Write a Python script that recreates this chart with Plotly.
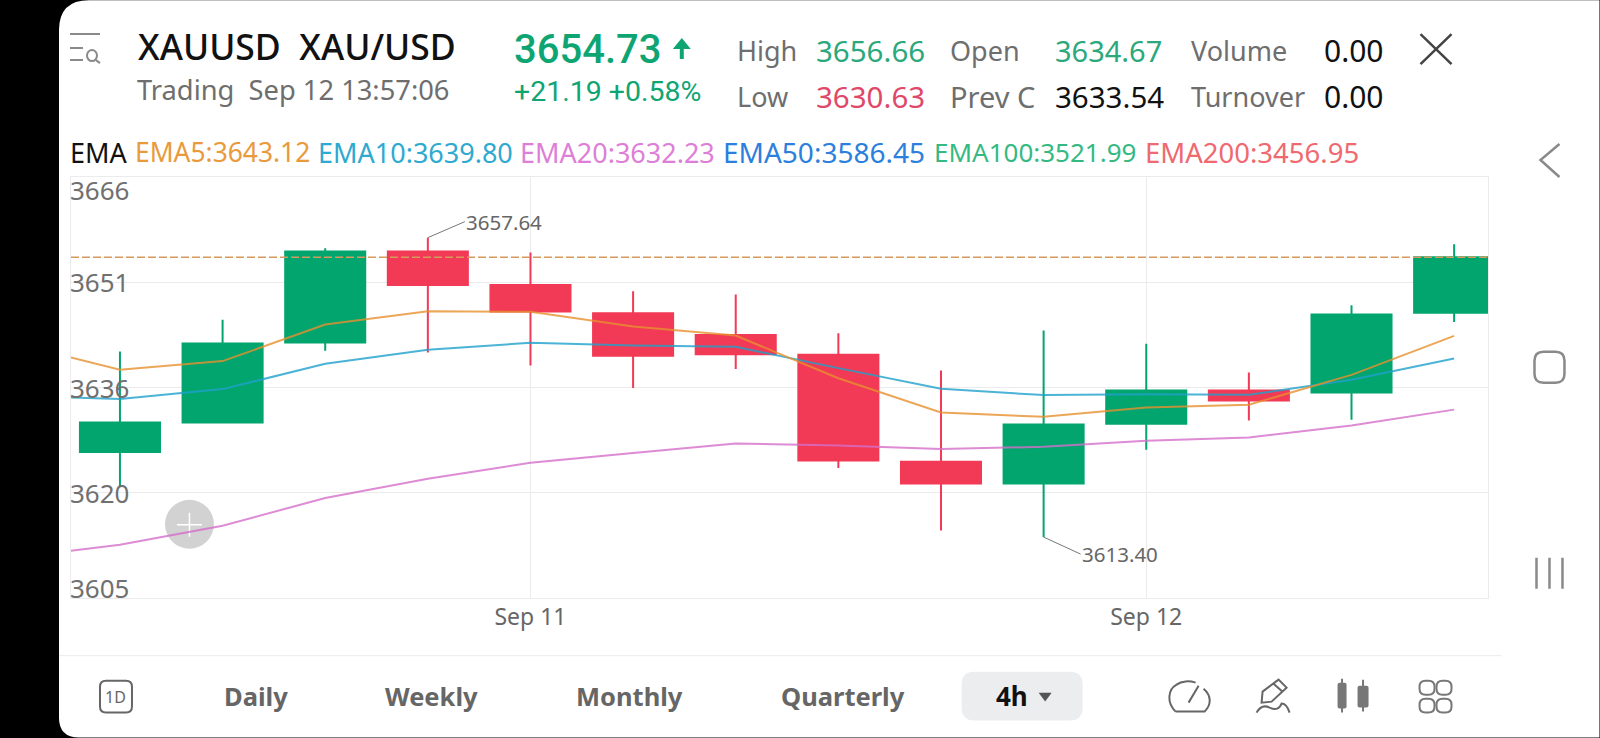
import re
import plotly.graph_objects as go

# candles, 4h bars
candle_x = list(range(14))
opens = [3625.96, 3630.33, 3642.14, 3655.58, 3650.66, 3646.48, 3643.24, 3640.33, 3624.53, 3621.32, 3630.14, 3635.06, 3634.76, 3646.53]
highs = [3640.81, 3645.50, 3656.08, 3657.64, 3655.43, 3649.73, 3649.23, 3643.53, 3638.01, 3643.92, 3641.95, 3637.71, 3647.67, 3656.66]
lows = [3620.88, 3630.33, 3640.92, 3640.67, 3638.75, 3635.41, 3638.22, 3623.60, 3614.38, 3613.40, 3626.30, 3630.63, 3630.73, 3645.16]
closes = [3630.33, 3642.00, 3655.58, 3650.66, 3646.72, 3640.18, 3640.43, 3624.72, 3621.32, 3630.04, 3635.06, 3633.58, 3646.28, 3654.73]

# the EMA lines start one bar left of the first visible candle
ema_x = list(range(-1, 14))
ema5 = [3641.92, 3638.11, 3639.40, 3644.80, 3646.78, 3646.68, 3644.51, 3643.18, 3636.86, 3631.81, 3631.17, 3632.55, 3632.94, 3637.37, 3643.12]
ema10 = [3634.29, 3633.79, 3635.26, 3639.00, 3641.07, 3642.10, 3641.70, 3641.51, 3638.36, 3635.31, 3634.38, 3634.52, 3634.42, 3636.64, 3639.80]
ema20 = [3610.41, 3612.27, 3615.08, 3619.17, 3622.02, 3624.38, 3625.81, 3627.23, 3626.93, 3626.40, 3626.74, 3627.63, 3628.12, 3629.89, 3632.23]

last_price = 3654.73
y_ticks = [3666.6, 3651.05, 3635.5, 3619.95, 3604.4]
y_labels = ["3666", "3651", "3636", "3620", "3605"]
y_label_shift = [-13, 0, 0, 0, 10]
x_ticks = [4, 10]
x_labels = ["Sep 11", "Sep 12"]

GREEN = "#03A56E"
RED = "#F23A56"
GRAY = "#6E6E6E"
FONT = "Noto Sans"

W, H = 1600, 738
L, R, T, B = 71, 1488.5, 177, 598.3


def px(x, y):
    return (x - L) / (R - L), 1 - (y - T) / (B - T)


def path(s):
    # path written in page pixels, turned into paper coordinates
    parts = re.findall(r"[A-Za-z]|-?[\d.]+", s)
    out, is_x, last = [], True, 0
    for t in parts:
        if t.isalpha():
            out.append(t)
            is_x = True
        elif is_x:
            last = float(t)
            is_x = False
        else:
            a, b = px(last, float(t))
            out.append(f"{a:.5f},{b:.5f}")
            is_x = True
    return " ".join(out)


def rrect(x0, y0, x1, y1, r):
    return (f"M {x0+r} {y0} L {x1-r} {y0} Q {x1} {y0} {x1} {y0+r} L {x1} {y1-r} Q {x1} {y1} {x1-r} {y1} "
            f"L {x0+r} {y1} Q {x0} {y1} {x0} {y1-r} L {x0} {y0+r} Q {x0} {y0} {x0+r} {y0} Z")


shapes = []


def fill(s, color, layer="above"):
    shapes.append(dict(type="path", xref="paper", yref="paper", path=path(s), fillcolor=color,
                       line=dict(width=0), layer=layer))


def stroke(s, color="#6E6E6E", width=2):
    shapes.append(dict(type="path", xref="paper", yref="paper", path=path(s), line=dict(color=color, width=width)))


notes = []


def text(x, y, s, color=GRAY, size=27, weight=400, anchor="left", family=FONT):
    a, b = px(x, y)
    notes.append(dict(xref="paper", yref="paper", x=a, y=b, text=s, showarrow=False, xanchor=anchor,
                      yanchor="middle", borderpad=0,
                      font=dict(family=family, size=size, color=color, weight=weight)))


# white phone panel on black
fill("M 59 30 Q 59 0 89 0 L 1600 0 L 1600 738 L 79 738 Q 59 738 59 718 Z", "#FFFFFF", "below")

# header
text(137, 46, "XAUUSD  XAU/USD", "#111111", 35.5, 500)
text(136, 89, "Trading  Sep 12 13:57:06", GRAY, 27.3)
text(513, 49, "3654.73", "#0FA573", 40, 500, family="Roboto")
text(513, 91, "+21.19 +0.58%", "#0FA573", 28.5, family="Roboto")
fill("M 682 38 L 691 49 L 684 49 L 684 59 L 680 59 L 680 49 L 673 49 Z", "#0FA573")
for x, y, s, c, size in [
    (736, 50.5, "High", GRAY, 27), (736, 96, "Low", GRAY, 27),
    (815, 50.5, "3656.66", "#2BA87C", 29.5), (815, 96, "3630.63", "#E0486A", 29.5),
    (949, 50.5, "Open", GRAY, 27), (949, 96, "Prev C", GRAY, 29),
    (1054, 50.5, "3634.67", "#2BA87C", 29), (1054, 96, "3633.54", "#111111", 29.5),
    (1190, 50.5, "Volume", GRAY, 27), (1190, 96, "Turnover", GRAY, 27),
    (1323, 50.5, "0.00", "#111111", 30), (1323, 96, "0.00", "#111111", 30),
]:
    text(x, y, s, c, size)

# EMA legend row
for x, s, c, size in [
    (69, "EMA", "#111111", 27), (134, "EMA5:3643.12", "#E89A3C", 26.4), (317, "EMA10:3639.80", "#2EA9CF", 27),
    (519, "EMA20:3632.23", "#DD7FD8", 27), (722, "EMA50:3586.45", "#2C7FDC", 28),
    (933, "EMA100:3521.99", "#35B983", 26), (1144, "EMA200:3456.95", "#EE6A70", 27.5),
]:
    text(x, 152, s, c, size)

# top icons
stroke("M 70 34 L 100 34 M 70 48 L 83 48 M 70 60 L 83 60", "#8A8A8A", 2)
shapes.append(dict(type="circle", xref="paper", yref="paper", x0=px(87, 0)[0], x1=px(97, 0)[0],
                   y0=px(0, 61)[1], y1=px(0, 50)[1], line=dict(color="#8A8A8A", width=2)))
stroke("M 96 60 L 100 63", "#8A8A8A", 2)
stroke("M 1421 34 L 1452 64 M 1452 34 L 1421 64", "#444444", 2.5)
stroke("M 1560 144 L 1541 160 L 1560 177", "#8A8A8A", 2.5)
stroke(rrect(1535, 352, 1565, 383, 9), "#8A8A8A", 2.5)
stroke("M 1537 558 L 1537 589 M 1550 558 L 1550 589 M 1563 558 L 1563 589", "#8A8A8A", 2.5)

# bottom bar
stroke("M 59 656 L 1502 656", "#EBEBEB", 1)
stroke(rrect(100, 681, 132, 713, 6), "#666666", 2)
text(116, 697, "1D", "#666666", 16, 400, "center")
for x, s in [(223, "Daily"), (384, "Weekly"), (575, "Monthly"), (780, "Quarterly")]:
    text(x, 696, s, "#666666", 25.5, 700)
fill(rrect(962, 672, 1083, 721, 13), "#ECEDEF")
text(995, 696, "4h", "#111111", 26, 700)
fill("M 1039 693 L 1052 693 L 1045.5 702 Z", "#555555")
stroke("M 1176 712 C 1167 703 1168 690 1177 685 C 1182 681 1190 681 1196 683 "
       "M 1204 689 C 1212 696 1212 705 1205 712 L 1176 712 M 1189 703 L 1199 686", "#666666", 2)
stroke("M 1262 703 L 1263 692 L 1279 680 L 1287 688 L 1272 702 Z M 1274 684 L 1283 692 "
       "M 1257 713 Q 1262 704 1270 708 Q 1279 712 1282 704 Q 1287 704 1290 713", "#666666", 2)
fill(rrect(1338, 683, 1347, 709, 2), "#777777")
fill(rrect(1358, 686, 1369, 708, 2), "#777777")
stroke("M 1342.5 679 L 1342.5 713 M 1363.5 680 L 1363.5 712", "#777777", 2)
for x0, y0 in [(1420, 681), (1437, 681), (1420, 699), (1437, 699)]:
    stroke(rrect(x0, y0, x0 + 15, y0 + 14, 6), "#777777", 2)

# plus button under the lines
a0, b0 = px(165, 549)
a1, b1 = px(214, 500)
shapes.append(dict(type="circle", xref="paper", yref="paper", x0=a0, x1=a1, y0=b0, y1=b1,
                   fillcolor="#D2D2D2", line=dict(width=0), layer="below"))
shapes.append(dict(type="path", xref="paper", yref="paper", layer="below",
                   path=path("M 177 525 L 202 525 M 189.5 513 L 189.5 537"),
                   line=dict(color="#FFFFFF", width=1.5)))

# last price line
shapes.append(dict(type="line", xref="paper", yref="y", x0=0, x1=1, y0=last_price, y1=last_price,
                   line=dict(color="#D69A5C", width=1.5, dash="8px,3px")))

# y labels sit inside the plot next to their grid lines
for v, s, shift in zip(y_ticks, y_labels, y_label_shift):
    notes.append(dict(xref="paper", yref="y", x=-0.0015, y=v, yshift=shift, text=s, showarrow=False, xanchor="left",
                      yanchor="middle", borderpad=0, font=dict(family=FONT, size=26, color="#707070")))

# high and low call-outs
for i, v, ax, ay in [(3, max(highs), 37, -16), (9, min(lows), 37, 17)]:
    notes.append(dict(xref="x", yref="y", x=i, y=v, text=f"{v:.2f}", showarrow=True, arrowhead=0, arrowwidth=1,
                      arrowcolor="#777777", ax=ax, ay=ay, xanchor="left", yanchor="middle", borderpad=0,
                      font=dict(family=FONT, size=20.5, color="#666666")))

fig = go.Figure()
fig.add_trace(go.Candlestick(
    x=candle_x, open=opens, high=highs, low=lows, close=closes, whiskerwidth=0,
    increasing=dict(line=dict(color=GREEN, width=2), fillcolor=GREEN),
    decreasing=dict(line=dict(color=RED, width=2), fillcolor=RED),
))
for vals, color in [(ema20, "#D66FCB"), (ema10, "#1FA2CC"), (ema5, "#E8912F")]:
    fig.add_trace(go.Scatter(x=ema_x, y=vals, mode="lines", opacity=0.8, line=dict(color=color, width=2)))

grid = "#EBEBEB"
fig.update_layout(
    width=W, height=H, showlegend=False, paper_bgcolor="#000000", plot_bgcolor="rgba(0,0,0,0)",
    boxgap=0.22, boxgroupgap=0,
    margin=dict(l=L, r=W - R, t=T, b=H - B, pad=0),
    shapes=shapes, annotations=notes,
)
fig.update_xaxes(range=[-0.477, 13.33], tickmode="array", tickvals=x_ticks, ticktext=x_labels, rangeslider_visible=False,
                 showgrid=True, gridcolor=grid, gridwidth=1, zeroline=False, showline=True, linecolor=grid, mirror=True,
                 ticks="", ticklabelstandoff=-2, tickfont=dict(family=FONT, size=23, color="#666666"))
fig.update_yaxes(range=[y_ticks[-1], y_ticks[0]], tickmode="array", tickvals=y_ticks, showticklabels=False,
                 showgrid=True, gridcolor=grid, gridwidth=1, zeroline=False, showline=True, linecolor=grid, mirror=True,
                 ticks="")

fig.write_html("out.html", config={"displayModeBar": False},
               post_script="document.body.style.margin='0';document.body.style.background='#000';")
